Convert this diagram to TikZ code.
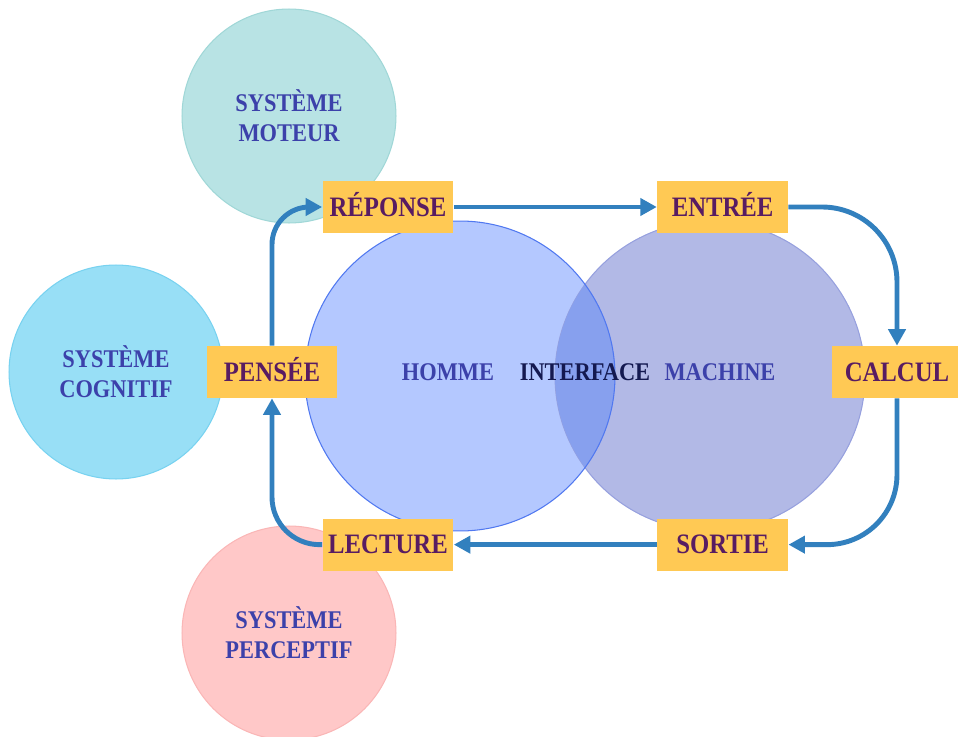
\documentclass[tikz,border=0pt]{standalone}
\usepackage{fontspec}
\setmainfont{Liberation Serif}[FakeStretch=0.88]
\usetikzlibrary{arrows.meta,positioning}
\definecolor{hmflow}{RGB}{50,128,190}
\definecolor{hmbox}{RGB}{255,201,84}
\definecolor{hmboxtxt}{RGB}{88,28,98}
\definecolor{hmtxt}{RGB}{60,65,170}
\definecolor{hmitxt}{RGB}{20,25,80}
\definecolor{hmmot}{RGB}{184,227,228}
\definecolor{hmmotedge}{RGB}{160,215,215}
\definecolor{hmcog}{RGB}{152,223,246}
\definecolor{hmcogedge}{RGB}{120,210,240}
\definecolor{hmper}{RGB}{255,200,200}
\definecolor{hmperedge}{RGB}{250,182,182}
\definecolor{hmhom}{RGB}{180,200,255}
\definecolor{hmhomedge}{RGB}{80,120,240}
\definecolor{hmmac}{RGB}{178,185,230}
\definecolor{hmmacedge}{RGB}{150,160,222}
\definecolor{hminter}{RGB}{135,160,238}
\tikzset{
  sysc/.style={
    circle, inner sep=0pt, minimum size=4.28cm, line width=0.6pt,
    align=center, text=hmtxt, font=\fontsize{14.5}{17}\selectfont\bfseries
  },
  mot/.style={sysc, fill=hmmot, draw=hmmotedge},
  cog/.style={sysc, fill=hmcog, draw=hmcogedge},
  per/.style={sysc, fill=hmper, draw=hmperedge},
  big/.style={circle, inner sep=0pt, minimum size=6.2cm, line width=0.6pt},
  lbl/.style={text=hmtxt, font=\fontsize{14.5}{17}\selectfont\bfseries,
    text height=9.6pt, text depth=0pt, inner sep=0pt},
  stagebox/.style={
    fill=hmbox, text=hmboxtxt, minimum width=2.62cm, minimum height=1.04cm,
    inner sep=0pt, text height=10.6pt, text depth=0pt,
    font=\fontsize{16}{19}\selectfont\bfseries
  },
  flow/.style={-{Triangle[length=3.3mm,width=3.4mm]}, draw=hmflow, line width=2.8pt}
}
\begin{document}
\begin{tikzpicture}[x=0.02cm, y=-0.02cm]
  \useasboundingbox (0,0) rectangle (958,737);
  % systemes
  \node[mot] (moteur) at (289,116) {SYSTÈME\\MOTEUR};
  \node[cog] (cognitif) at (116,372) {SYSTÈME\\COGNITIF};
  \node[per] (perceptif) at (289,633) {SYSTÈME\\PERCEPTIF};
  % homme / machine
  \node[big, fill=hmhom] (homme) at (460,376) {};
  \node[big, fill=hmmac, draw=hmmacedge] (machine) at (710,376) {};
  \begin{scope}
    \clip (homme.center) circle (3.1cm);
    \fill[hminter] (machine.center) circle (3.1cm);
  \end{scope}
  \draw[hmhomedge, line width=0.6pt] (homme.center) circle (3.1cm);
  \node[lbl] (hommetxt) at (448,372) {HOMME};
  \node[lbl, text=hmitxt] (interface) at (585,372) {INTERFACE};
  \node[lbl] (machinetxt) at (720,372) {MACHINE};
  % etapes
  \node[stagebox] (reponse) at (388,207) {RÉPONSE};
  \node[stagebox, right=4.06cm of reponse] (entree) {ENTRÉE};
  \node[stagebox] (pensee) at (272,372) {PENSÉE};
  \node[stagebox] (calcul) at (897,372) {CALCUL};
  \node[stagebox, below=5.7cm of reponse] (lecture) {LECTURE};
  \node[stagebox, right=4.06cm of lecture] (sortie) {SORTIE};
  \draw[flow] (reponse) -- (entree);
  \draw[flow, rounded corners=1.5cm] (entree.east) -| (calcul.north);
  \draw[flow, rounded corners=1.4cm] (calcul.south) |- (sortie.east);
  \draw[flow] (sortie) -- (lecture);
  \draw[flow, rounded corners=0.95cm] (lecture.west) -| (pensee.south);
  \draw[flow, rounded corners=0.75cm] (pensee.north) |- (reponse.west);
\end{tikzpicture}
\end{document}
